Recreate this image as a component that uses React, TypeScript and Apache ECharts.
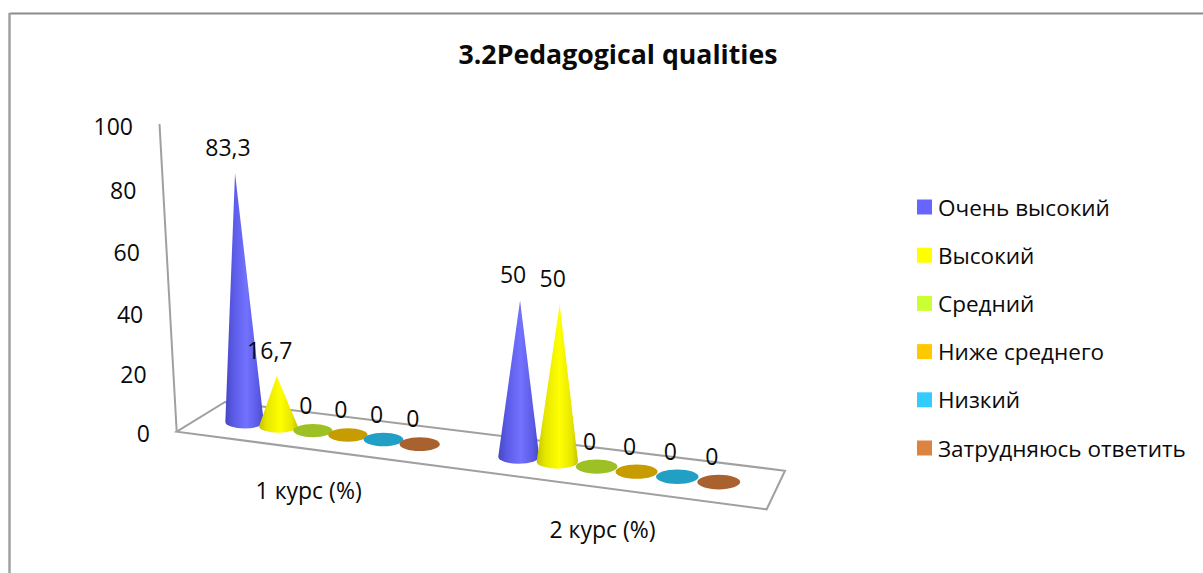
import React, { useEffect, useRef } from "react";
import * as echarts from "echarts";

const TITLE = "3.2Pedagogical qualities";
const categories = ["1 курс (%)", "2 курс (%)"];
const seriesNames = ["Очень высокий", "Высокий", "Средний", "Ниже среднего", "Низкий", "Затрудняюсь ответить"];
const veryHigh = [83.3, 50];
const high = [16.7, 50];
const medium = [0, 0];
const belowMedium = [0, 0];
const low = [0, 0];
const unsure = [0, 0];
const seriesValues = [veryHigh, high, medium, belowMedium, low, unsure];
const yTicks = [0, 20, 40, 60, 80, 100];
const yTickShift = [1, 4, 5, 5, 4, 2];

const legendColors = ["#6666FF", "#FFFF00", "#CCFF33", "#FFC800", "#33CCFF", "#DC843F"];
const capColors = ["#5A5AE6", "#E6E600", "#9DC124", "#C79C00", "#229FC4", "#A9622F"];
const edgeColors = ["#4646C4", "#C4C400", "#7F9C1C", "#A07E00", "#1B80A0", "#884E25"];
const centerColors = ["#7272FF", "#FFFF00", "#B0D830", "#E0B000", "#2AB4E0", "#C07038"];

const FONT = "'Open Sans', sans-serif";
const TEXT = "#0A0A0A";
const LINE = "#A0A0A0";

// floor quad corners in page pixels: back-left, back-right, front-right, front-left
const A = [225, 402], B = [785, 470.7], C = [766.7, 509.3], D = [176.7, 431.7];
const GAP_STEPS = 1.65;
const DEPTH = 0.5;

const dx1 = B[0] - C[0], dx2 = D[0] - C[0], sx = A[0] - B[0] + C[0] - D[0];
const dy1 = B[1] - C[1], dy2 = D[1] - C[1], sy = A[1] - B[1] + C[1] - D[1];
const det = dx1 * dy2 - dx2 * dy1;
const g = (sx * dy2 - dx2 * sy) / det;
const h = (dx1 * sy - sx * dy1) / det;
const ha = B[0] - A[0] + g * B[0], hb = D[0] - A[0] + h * D[0];
const hd = B[1] - A[1] + g * B[1], he = D[1] - A[1] + h * D[1];
function project(u: number, v: number) {
  const w = g * u + h * v + 1;
  return { x: (ha * u + hb * v + A[0]) / w, y: (hd * u + he * v + A[1]) / w, w };
}

function fmt(v: number) {
  return String(v).replace(".", ",");
}

function coneRender(seriesIndex: number) {
  return (params: any, api: any) => {
    const cat = api.value(0);
    const val = api.value(1);
    const cs = params.coordSys;
    const bandX = api.coord([cat, 0])[0];
    const bandW = api.size([1, 0])[0];
    const step = bandW / (seriesNames.length + GAP_STEPS);
    const px = bandX - bandW / 2 + step * (GAP_STEPS / 2 + seriesIndex + 0.5);
    const p = project((px - cs.x) / cs.width - 0.002, DEPTH);
    const hw = 18.5 / p.w;
    const ry = 6.3 / p.w;
    const height = api.size([0, val])[1] * 0.944 * Math.pow(p.w, -0.7);
    const apexX = p.x + height * (p.x - 470) * 0.00017;
    const apexY = p.y - height;
    const children: any[] = [];
    if (val > 0) {
      children.push({
        type: "path",
        shape: {
          pathData: `M ${p.x - hw} ${p.y} L ${apexX} ${apexY} L ${p.x + hw} ${p.y} A ${hw} ${ry} 0 0 1 ${p.x - hw} ${p.y} Z`,
        },
        style: {
          fill: new echarts.graphic.LinearGradient(0, 0, 1, 0, [
            { offset: 0, color: edgeColors[seriesIndex] },
            { offset: 0.2, color: capColors[seriesIndex] },
            { offset: 0.55, color: centerColors[seriesIndex] },
            { offset: 0.85, color: capColors[seriesIndex] },
            { offset: 1, color: edgeColors[seriesIndex] },
          ]),
        },
      });
    } else {
      children.push({
        type: "ellipse",
        shape: { cx: p.x, cy: p.y, rx: hw, ry },
        style: { fill: capColors[seriesIndex] },
      });
    }
    children.push({
      type: "text",
      style: {
        x: apexX - 7,
        y: apexY - 26,
        text: fmt(val),
        fill: TEXT,
        font: `23px ${FONT}`,
        align: "center",
        verticalAlign: "middle",
      },
    });
    return { type: "group", children };
  };
}

function floorRender(params: any, api: any) {
  const cat = api.value(0);
  const cs = params.coordSys;
  const u = (api.coord([cat, 0])[0] - cs.x) / cs.width;
  const front = project(u, 1);
  const children: any[] = [
    {
      type: "text",
      style: {
        x: front.x - 1,
        y: front.y + 41,
        text: categories[cat],
        fill: TEXT,
        font: `23px ${FONT}`,
        align: "center",
        verticalAlign: "middle",
      },
    },
  ];
  if (cat === 0) {
    children.push({
      type: "polygon",
      shape: { points: [A, B, C, D] },
      style: { fill: "none", stroke: LINE, lineWidth: 2 },
    });
    children.push({
      type: "line",
      shape: { x1: 159.5, y1: api.coord([0, 100])[1], x2: D[0], y2: api.coord([0, 0])[1] },
      style: { stroke: LINE, lineWidth: 2 },
    });
  }
  return { type: "group", children };
}

export default function App() {
  const ref = useRef<HTMLDivElement>(null);
  useEffect(() => {
    document.body.style.margin = "0";
    const chart = echarts.init(ref.current!, null, { renderer: "svg" });
    const rich: Record<string, any> = {};
    yTicks.forEach((t, i) => {
      rich["p" + t] = {
        padding: [yTickShift[i] * 2, (t / 100) * 17, 0, 0],
        fontFamily: FONT,
        fontSize: 23,
        color: TEXT,
      };
    });
    chart.setOption({
      animation: false,
      backgroundColor: "#ffffff",
      title: {
        text: TITLE,
        left: 613,
        top: 35,
        textAlign: "center",
        textStyle: { fontFamily: FONT, fontSize: 26.7, fontWeight: "bold", color: "#0A0A0A" },
      },
      legend: {
        data: seriesNames,
        orient: "vertical",
        left: 917,
        top: 193,
        padding: 0,
        itemWidth: 15,
        itemHeight: 15,
        itemGap: 20.2,
        icon: "rect",
        selectedMode: false,
        textStyle: { fontFamily: FONT, fontSize: 22.5, lineHeight: 28, color: TEXT, padding: [0, 0, 0, 1] },
      },
      grid: { left: 151, top: 124, width: 640, height: 308 },
      xAxis: { type: "category", data: categories, show: false },
      yAxis: {
        type: "value",
        min: 0,
        max: 100,
        interval: 20,
        axisLine: { show: false },
        axisTick: { show: false },
        splitLine: { show: false },
        axisLabel: {
          margin: 1,
          formatter: (v: number) => `{p${v}|${v}}`,
          rich,
        },
      },
      graphic: [
        { type: "line", shape: { x1: 9.5, y1: 13.5, x2: 1203, y2: 13.5 }, style: { stroke: "#8C8C8C", lineWidth: 2 } },
        { type: "line", shape: { x1: 9.5, y1: 13, x2: 9.5, y2: 573 }, style: { stroke: "#A0A0A0", lineWidth: 2.5 } },
      ],
      series: [
        {
          type: "custom",
          name: "floor",
          coordinateSystem: "cartesian2d",
          renderItem: floorRender,
          data: categories.map((_, i) => [i, 0]),
          clip: false,
          silent: true,
          z: 1,
        },
        ...seriesNames.map((name, s) => ({
          type: "custom",
          name,
          coordinateSystem: "cartesian2d",
          renderItem: coneRender(s),
          itemStyle: { color: legendColors[s] },
          data: seriesValues[s].map((v, i) => [i, v]),
          encode: { x: 0, y: 1 },
          clip: false,
          z: 2 + s,
        })),
      ],
    });
    return () => chart.dispose();
  }, []);
  return <div ref={ref} style={{ position: "absolute", left: 0, top: 0, width: 1203, height: 573 }} />;
}
